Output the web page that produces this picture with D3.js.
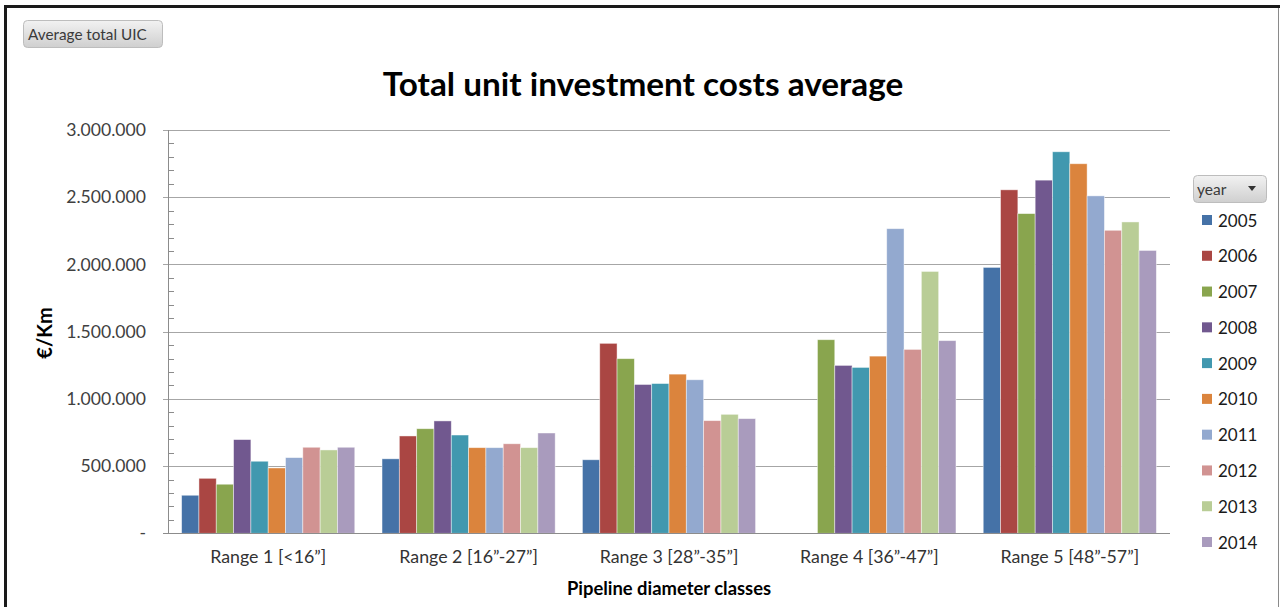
<!DOCTYPE html>
<html>
<head>
<meta charset="utf-8">
<script src="https://cdn.jsdelivr.net/npm/d3@7"></script>
<style>
  html, body { margin: 0; padding: 0; background: #fff; }
  svg { display: block; }
  text { font-family: Lato, "Open Sans", sans-serif; }
</style>
</head>
<body>
<svg id="chart" width="1280" height="607"></svg>
<script>
const categories = ["Range 1 [<16\u201D]", "Range 2 [16\u201D-27\u201D]", "Range 3 [28\u201D-35\u201D]", "Range 4 [36\u201D-47\u201D]", "Range 5 [48\u201D-57\u201D]"];
const years = ["2005","2006","2007","2008","2009","2010","2011","2012","2013","2014"];
const colors = ["#4572A7","#AA4643","#89A54E","#71588F","#4198AF","#DB843D","#93A9CF","#D19392","#B9CD96","#A99BBD"];
// values per year, across the 5 categories (null = no bar)
const v2005 = [283000, 554000, 547000, null, 1978000];
const v2006 = [409000, 724000, 1413000, null, 2555000];
const v2007 = [365000, 778000, 1299000, 1440000, 2378000];
const v2008 = [697000, 836000, 1107000, 1249000, 2627000];
const v2009 = [536000, 731000, 1114000, 1234000, 2838000];
const v2010 = [486000, 637000, 1184000, 1318000, 2749000];
const v2011 = [563000, 637000, 1142000, 2266000, 2510000];
const v2012 = [640000, 666000, 838000, 1368000, 2254000];
const v2013 = [620000, 637000, 885000, 1948000, 2316000];
const v2014 = [640000, 746000, 853000, 1433000, 2104000];
const series = [v2005, v2006, v2007, v2008, v2009, v2010, v2011, v2012, v2013, v2014];
const yTicks = [0, 500000, 1000000, 1500000, 2000000, 2500000, 3000000];

const title = "Total unit investment costs average";
const yLabel = "\u20AC/Km";
const xLabel = "Pipeline diameter classes";
const filterLabel = "Average total UIC";
const legendTitle = "year";

const svg = d3.select("#chart");
const plot = { left: 168, right: 1170, top: 130, bottom: 533.3 };

// frame
svg.append("line").attr("x1", 4).attr("x2", 1280).attr("y1", 6.5).attr("y2", 6.5).attr("stroke", "#1a1a1a").attr("stroke-width", 3);
svg.append("line").attr("x1", 5.5).attr("x2", 5.5).attr("y1", 5).attr("y2", 607).attr("stroke", "#1a1a1a").attr("stroke-width", 3);
svg.append("line").attr("x1", 1278.5).attr("x2", 1278.5).attr("y1", 8).attr("y2", 607).attr("stroke", "#8a8a8a").attr("stroke-width", 1);

const defs = svg.append("defs");
const grad = defs.append("linearGradient").attr("id", "btn").attr("x1", 0).attr("x2", 0).attr("y1", 0).attr("y2", 1);
grad.append("stop").attr("offset", "0%").attr("stop-color", "#f2f2f2");
grad.append("stop").attr("offset", "100%").attr("stop-color", "#cfcfcf");

// filter button
svg.append("rect").attr("x", 23.5).attr("y", 20.5).attr("width", 139).attr("height", 27).attr("rx", 4)
  .attr("fill", "url(#btn)").attr("stroke", "#bdbdbd");
svg.append("text").attr("x", 28).attr("y", 40).attr("font-size", 15.3).attr("fill", "#3a3a3a").text(filterLabel);

// title
svg.append("text").attr("x", 643).attr("y", 96).attr("text-anchor", "middle")
  .attr("font-size", 33.3).attr("font-weight", "bold").attr("fill", "#000").text(title);

const y = d3.scaleLinear().domain([0, 3000000]).range([plot.bottom, plot.top]);
const x0 = d3.scaleBand().domain(categories).range([plot.left, plot.right]).padding(0);
const bw = x0.bandwidth();
const x1 = d3.scaleBand().domain(years).range([bw * 0.068, bw * 0.932]).padding(0);

const loc = d3.formatLocale({ decimal: ",", thousands: ".", grouping: [3], currency: ["\u20AC", ""] });
const fmt = v => v === 0 ? "-" : loc.format(",")(v);

// gridlines
const grid = svg.append("g");
grid.selectAll("line").data(yTicks.filter(t => t > 0)).join("line")
  .attr("x1", plot.left - 5).attr("x2", plot.right)
  .attr("y1", d => Math.round(y(d)) + 0.5).attr("y2", d => Math.round(y(d)) + 0.5)
  .attr("stroke", "#a6a6a6").attr("stroke-width", 1);

// minor ticks
const minor = d3.range(100000, 3000000, 100000).filter(v => v % 500000 !== 0);
svg.append("g").selectAll("line").data(minor).join("line")
  .attr("x1", plot.left).attr("x2", plot.left + 6)
  .attr("y1", d => Math.round(y(d)) + 0.5).attr("y2", d => Math.round(y(d)) + 0.5)
  .attr("stroke", "#8c8c8c");

// y axis labels
const yAxis = d3.axisLeft(y).tickValues(yTicks).tickFormat(fmt).tickSize(0).tickPadding(22);
const ya = svg.append("g").attr("transform", `translate(${plot.left},0)`).call(yAxis);
ya.select(".domain").remove();
ya.selectAll("text").attr("font-size", 17.6).attr("fill", "#404040").attr("font-family", "Lato, sans-serif");

// bars
const groups = svg.append("g").selectAll("g").data(years).join("g").attr("fill", (d, i) => colors[i]);
groups.selectAll("rect")
  .data((yr, i) => series[i].map((v, j) => ({ yr, cat: categories[j], v })).filter(d => d.v != null))
  .join("rect")
  .attr("x", d => x0(d.cat) + x1(d.yr))
  .attr("width", x1.bandwidth())
  .attr("y", d => y(d.v))
  .attr("height", d => y(0) - y(d.v))
  .attr("stroke", "#ffffff").attr("stroke-opacity", 0.55).attr("stroke-width", 0.8);

// y axis line & baseline
svg.append("line").attr("x1", plot.left + 0.5).attr("x2", plot.left + 0.5).attr("y1", plot.top).attr("y2", plot.bottom)
  .attr("stroke", "#8c8c8c");
svg.append("line").attr("x1", plot.left - 5).attr("x2", plot.right).attr("y1", Math.round(plot.bottom) + 0.5).attr("y2", Math.round(plot.bottom) + 0.5)
  .attr("stroke", "#8c8c8c").attr("stroke-width", 1.2);

// x axis labels
const xAxis = d3.axisBottom(x0).tickSize(0).tickPadding(17);
const xa = svg.append("g").attr("transform", `translate(0,${plot.bottom})`).call(xAxis);
xa.select(".domain").remove();
xa.selectAll("text").attr("font-size", 17.8).attr("fill", "#333").attr("font-family", "Lato, sans-serif");

// axis titles
svg.append("text").attr("x", 669).attr("y", 595).attr("text-anchor", "middle")
  .attr("font-size", 18.4).attr("font-weight", "bold").attr("fill", "#000").text(xLabel);
svg.append("text").attr("transform", "translate(52,333) rotate(-90)").attr("text-anchor", "middle")
  .attr("font-size", 20).attr("font-weight", "bold").attr("fill", "#000").text(yLabel);

// legend
svg.append("rect").attr("x", 1193.5).attr("y", 175.5).attr("width", 73).attr("height", 27).attr("rx", 4)
  .attr("fill", "url(#btn)").attr("stroke", "#bdbdbd");
svg.append("text").attr("x", 1197).attr("y", 195).attr("font-size", 15.5).attr("fill", "#3a3a3a").text(legendTitle);
svg.append("path").attr("d", "M1248,186 L1256,186 L1252,191 Z").attr("fill", "#333");

const legY = d3.scalePoint().domain(years).range([220, 542]);
const leg = svg.append("g").selectAll("g").data(years).join("g")
  .attr("transform", d => `translate(1202,${legY(d)})`);
leg.append("rect").attr("x", 0).attr("y", -5).attr("width", 10).attr("height", 10).attr("fill", (d, i) => colors[i]);
leg.append("text").attr("x", 16).attr("y", 6.5).attr("font-size", 17).attr("fill", "#1a1a1a").text(d => d);
</script>
</body>
</html>
